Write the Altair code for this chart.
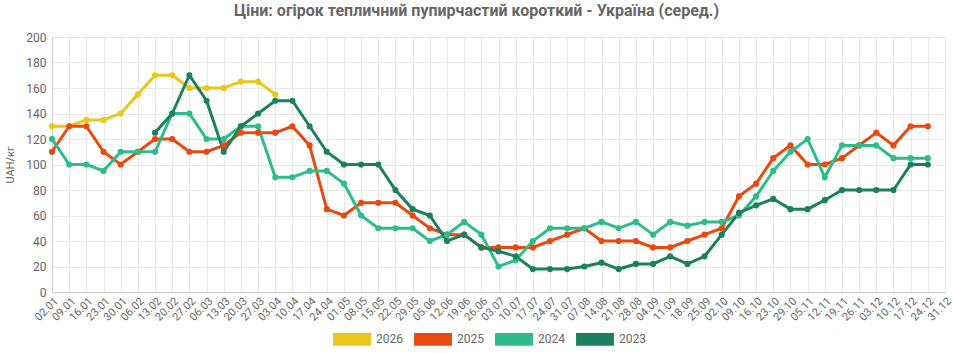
import altair as alt
import pandas as pd

dates = ["02.01","09.01","16.01","23.01","30.01","06.02","13.02","20.02","27.02","06.03",
         "13.03","20.03","27.03","03.04","10.04","17.04","24.04","01.05","08.05","15.05",
         "22.05","29.05","05.06","12.06","19.06","26.06","03.07","10.07","17.07","24.07",
         "31.07","07.08","14.08","21.08","28.08","04.09","11.09","18.09","25.09","02.10",
         "09.10","16.10","23.10","29.10","05.11","12.11","19.11","26.11","03.12","10.12",
         "17.12","24.12","31.12"]

y2026 = [130,130,135,135,140,155,170,170,160,160,160,165,165,155]
y2025 = [110,130,130,110,100,110,120,120,110,110,115,125,125,125,130,115,65,60,70,70,
         70,60,50,45,45,35,35,35,35,40,45,50,40,40,40,35,35,40,45,50,
         75,85,105,115,100,100,105,115,125,115,130,130]
y2024 = [120,100,100,95,110,110,110,140,140,120,120,130,130,90,90,95,95,85,60,50,
         50,50,40,45,55,45,20,25,40,50,50,50,55,50,55,45,55,52,55,55,
         60,75,95,110,120,90,115,115,115,105,105,105]
y2023_start = 6
y2023 = [125,140,170,150,110,130,140,150,150,130,110,100,100,100,80,65,60,40,45,35,
         32,28,18,18,18,20,23,18,22,22,28,22,28,45,62,68,73,65,65,72,
         80,80,80,80,100,100]

series = ["2026", "2025", "2024", "2023"]
colors = ["#e8c81a", "#e8490f", "#2dbd8b", "#1c8060"]

rows = []
for name, vals, start in [("2026", y2026, 0), ("2025", y2025, 0),
                          ("2024", y2024, 0), ("2023", y2023, y2023_start)]:
    for k, v in enumerate(vals):
        rows.append({"date": dates[start + k], "idx": start + k, "value": v, "year": name})
df = pd.DataFrame(rows)

font = "Roboto"
base = alt.Chart(df).encode(
    x=alt.X("date:N", sort=dates, scale=alt.Scale(domain=dates, type="point", padding=0),
            axis=alt.Axis(title=None, labelAngle=-45, labelAlign="right", labelBaseline="top",
                          labelFontSize=11, labelColor="#666", grid=True, gridColor="#e8e8e8",
                          domainColor="#cccccc", tickSize=0, labelPadding=3,
                          labelOverlap=False, labelFont=font)),
    y=alt.Y("value:Q", scale=alt.Scale(domain=[0, 200], nice=False),
            axis=alt.Axis(title="UAH/кг", values=list(range(0, 201, 20)), labelFontSize=12,
                          labelColor="#666", gridColor="#e8e8e8", domainColor="#cccccc",
                          tickSize=0, labelPadding=6, titleFontSize=11, titleColor="#666",
                          titleFontWeight="normal", titleFont=font, labelFont=font,
                          titlePadding=10)),
    color=alt.Color("year:N", scale=alt.Scale(domain=series, range=colors),
                    legend=alt.Legend(title=None, orient="none", direction="horizontal",
                                      legendX=287, legendY=289,
                                      symbolType="M-1.5,-0.5H1.5V0.5H-1.5Z", symbolSize=640,
                                      symbolStrokeWidth=0, symbolOpacity=1,
                                      labelOffset=11, labelFontSize=12, labelColor="#666",
                                      labelFont=font, columnPadding=11)),
    order=alt.Order("idx:Q"),
)

lines = base.mark_line(strokeWidth=3, point=alt.OverlayMarkDef(filled=True, size=38, opacity=1))

chart = lines.properties(
    width=893, height=255,
    title=alt.TitleParams("Ціни: огірок тепличний пупирчастий короткий - Україна (серед.)",
                          fontSize=16, font=font, fontWeight="bold", color="#666",
                          anchor="middle", dx=-22, offset=12),
    padding={"left": 52, "top": 37, "right": 8, "bottom": 61},
    autosize=alt.AutoSizeParams(type="none"),
).configure_view(stroke=None).configure(background="white")

chart.save("out.html", embed_options={"renderer": "svg", "actions": False})
